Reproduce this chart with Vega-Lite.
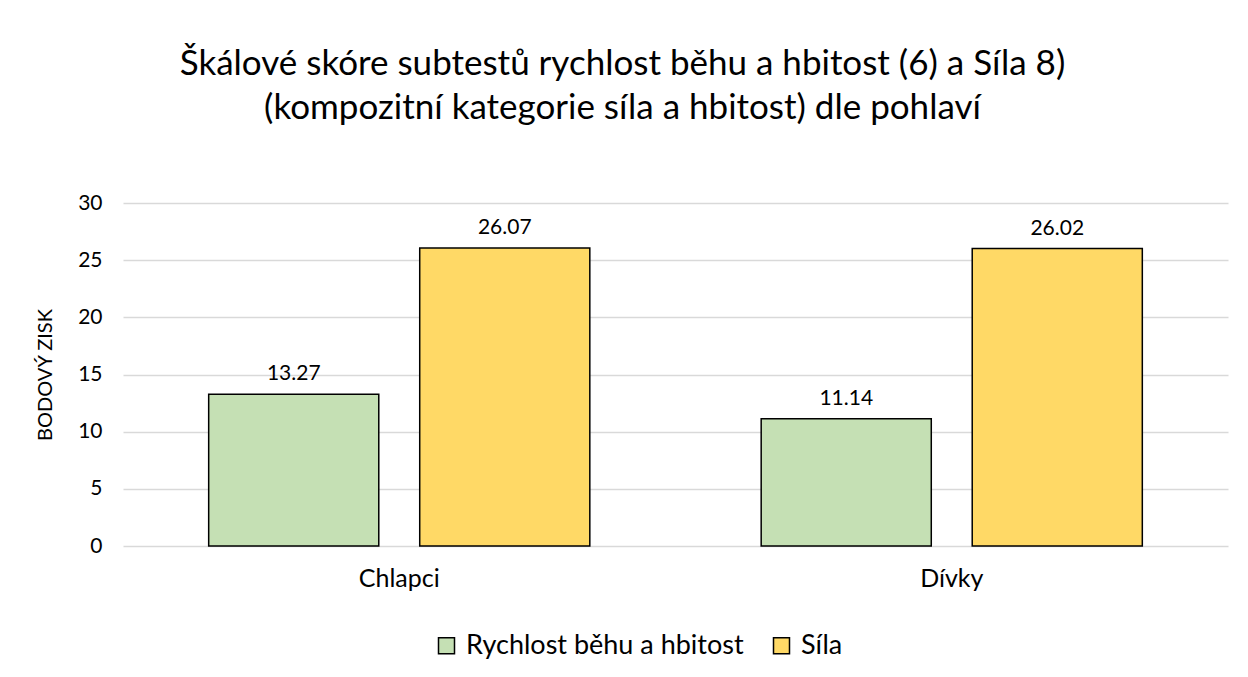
{
  "$schema": "https://vega.github.io/schema/vega-lite/v6.json",
  "width": 1105,
  "height": 343,
  "autosize": {"type": "none"},
  "padding": {"left": 123, "top": 203, "right": 20, "bottom": 131},
  "background": "white",
  "config": {
    "font": "Lato",
    "view": {"stroke": null}
  },
  "title": {
    "text": ["Škálové skóre subtestů rychlost běhu a hbitost (6) a Síla 8)", "(kompozitní kategorie síla a hbitost) dle pohlaví"],
    "fontSize": 35,
    "fontWeight": "normal",
    "color": "#000000",
    "anchor": "middle",
    "frame": "group",
    "dx": -53,
    "lineHeight": 44,
    "offset": 66
  },
  "data": {
    "values": [
      {"pohlavi": "Chlapci", "subtest": "Rychlost běhu a hbitost", "skore": 13.27},
      {"pohlavi": "Chlapci", "subtest": "Síla", "skore": 26.07},
      {"pohlavi": "Dívky", "subtest": "Rychlost běhu a hbitost", "skore": 11.14},
      {"pohlavi": "Dívky", "subtest": "Síla", "skore": 26.02}
    ]
  },
  "encoding": {
    "x": {
      "field": "pohlavi",
      "type": "nominal",
      "sort": ["Chlapci", "Dívky"],
      "scale": {"paddingInner": 0, "paddingOuter": 0},
      "axis": {
        "title": null,
        "labelAngle": 0,
        "labelFontSize": 25,
        "labelColor": "#000000",
        "labelPadding": 20,
        "ticks": false,
        "domain": false,
        "grid": false
      }
    },
    "xOffset": {
      "field": "subtest",
      "type": "nominal",
      "sort": ["Rychlost běhu a hbitost", "Síla"],
      "scale": {"paddingInner": 0.194, "paddingOuter": 0.406}
    },
    "y": {
      "field": "skore",
      "type": "quantitative",
      "scale": {"domain": [0, 30]},
      "axis": {
        "title": "BODOVÝ ZISK",
        "titleFontSize": 20,
        "titleFontWeight": "normal",
        "titleColor": "#000000",
        "titlePadding": 22,
        "values": [0, 5, 10, 15, 20, 25, 30],
        "labelFontSize": 21,
        "labelColor": "#000000",
        "labelPadding": 21,
        "ticks": false,
        "domain": false,
        "grid": true,
        "gridColor": "#d9d9d9",
        "gridWidth": 1.5
      }
    }
  },
  "layer": [
    {
      "mark": {"type": "bar", "stroke": "#000000", "strokeWidth": 1.5},
      "encoding": {
        "color": {
          "field": "subtest",
          "type": "nominal",
          "sort": ["Rychlost běhu a hbitost", "Síla"],
          "scale": {"domain": ["Rychlost běhu a hbitost", "Síla"], "range": ["#c5e0b4", "#ffd966"]},
          "legend": {
            "title": null,
            "orient": "none",
            "direction": "horizontal",
            "legendX": 310,
            "legendY": 429,
            "symbolType": "square",
            "symbolSize": 256,
            "symbolStrokeColor": "#000000",
            "symbolStrokeWidth": 1.5,
            "symbolOpacity": 1,
            "labelFontSize": 27,
            "labelLimit": 500,
            "labelColor": "#000000",
            "labelOffset": 6,
            "columnPadding": 24
          }
        }
      }
    },
    {
      "mark": {"type": "text", "fontSize": 21, "baseline": "alphabetic", "dy": -14, "color": "#000000"},
      "encoding": {
        "text": {"field": "skore", "type": "quantitative", "format": ".2f"}
      }
    }
  ]
}
